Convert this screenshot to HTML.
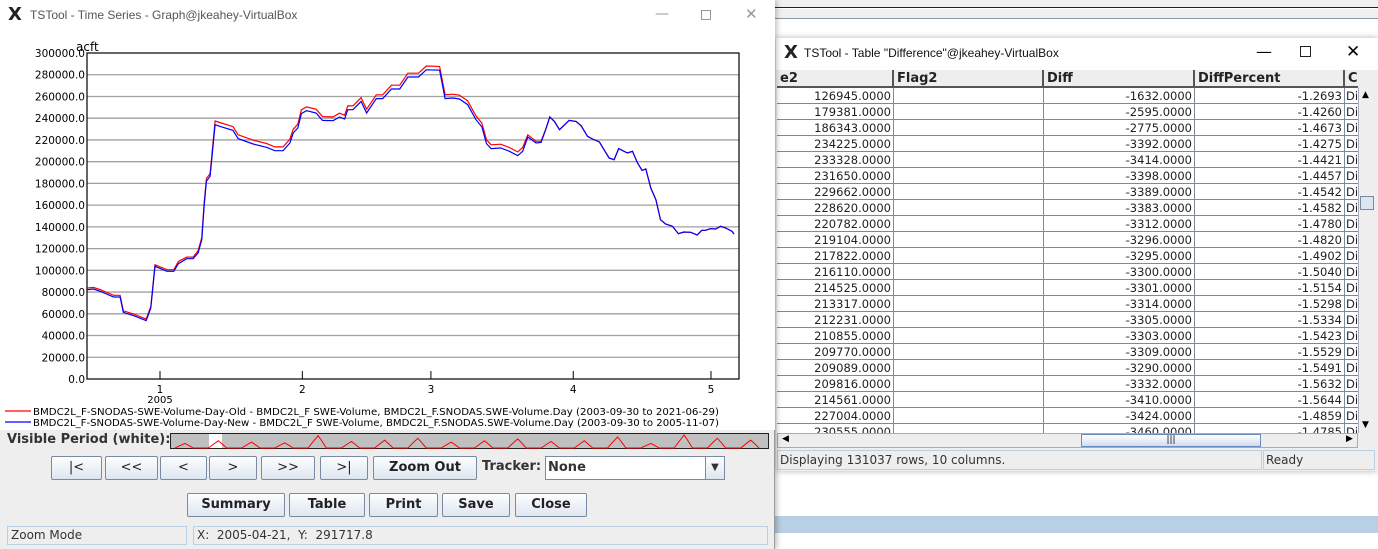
<!DOCTYPE html>
<html><head><meta charset="utf-8">
<style>
*{box-sizing:border-box;margin:0;padding:0}
body{width:1378px;height:549px;overflow:hidden;background:#fff;font-family:"DejaVu Sans","Liberation Sans",sans-serif;position:relative}
.abs{position:absolute}
.btn{position:absolute;height:24px;border:1px solid #7a8aa0;border-radius:2px;background:linear-gradient(#fdfeff,#dde6f0);font-size:13px;text-align:center;line-height:22px;color:#222}
.btn2{font-weight:bold}
.cell{position:absolute;height:16px;font-size:11.5px;line-height:16px;text-align:right;padding-right:2px;color:#222;border-right:1px solid #7d8a99;border-bottom:1px solid #7d8a99}
.hdr{position:absolute;top:70px;height:18px;font-weight:bold;font-size:13px;line-height:18px;padding-left:3px;background:#eeeeee;border-right:2px solid #555;border-bottom:2px solid #555;color:#222}
</style></head><body>
<!-- background desktop strip -->
<div class="abs" style="left:775px;top:0;width:603px;height:8px;background:#f0f0f0;border-bottom:1px solid #222"></div>
<div class="abs" style="left:775px;top:9px;width:603px;height:10px;background:#f0f0f0;border-bottom:1px solid #8a9aa8"></div>
<div class="abs" style="left:775px;top:516px;width:603px;height:17px;background:#b8cfe4"></div>

<!-- Table window -->
<div class="abs" style="left:776px;top:38px;width:602px;height:433px;background:#eee;box-shadow:0 0 6px rgba(0,0,0,.3)">
  <div class="abs" style="left:0;top:0;width:602px;height:32px;background:#fff">
    <span class="abs" style="left:8px;top:4px;font-size:18px;font-weight:bold;color:#222">X</span>
    <span class="abs" style="left:28px;top:8px;font-family:'Liberation Sans',sans-serif;font-size:12px;color:#111">TSTool - Table "Difference"@jkeahey-VirtualBox</span>
    <span class="abs" style="left:480px;top:4px;font-size:16px">—</span>
    <span class="abs" style="left:524px;top:8px;width:11px;height:11px;border:1px solid #222"></span>
    <span class="abs" style="left:570px;top:4px;font-size:17px">✕</span>
  </div>
</div>
<div id="table" class="abs" style="left:777px;top:70px;width:581px;height:363px;overflow:hidden;background:#fff"></div>
<div class="abs" style="left:1358px;top:88px;width:17px;height:345px;background:#eee;border-left:1px solid #aab">
  <div class="abs" style="left:3px;top:2px;font-size:9px">▲</div>
  <div class="abs" style="left:1px;top:108px;width:14px;height:14px;background:#dde6f0;border:1px solid #7a8aa0"></div>
  <div class="abs" style="left:3px;top:332px;font-size:9px">▼</div>
</div>
<div class="abs" style="left:777px;top:433px;width:581px;height:15px;background:#eee;border:1px solid #aab">
  <div class="abs" style="left:4px;top:0;font-size:9px">◀</div>
  <div class="abs" style="left:303px;top:0;width:180px;height:13px;background:linear-gradient(#fff,#cddcf0);border:1px solid #6a8ac0;text-align:center;font-size:9px">|||</div>
  <div class="abs" style="left:568px;top:0;font-size:9px">▶</div>
</div>
<div class="abs" style="left:777px;top:450px;width:485px;height:20px;border:1px solid #b8cfe4;font-size:12px;line-height:18px;padding-left:2px;color:#333">Displaying 131037 rows, 10 columns.</div>
<div class="abs" style="left:1263px;top:450px;width:112px;height:20px;border:1px solid #b8cfe4;font-size:12px;line-height:18px;padding-left:2px;color:#333">Ready</div>

<!-- Graph window -->
<div class="abs" style="left:0;top:0;width:775px;height:549px;background:#eeeeee;border-right:1px solid #999;box-shadow:2px 0 5px rgba(0,0,0,.25)">
  <div class="abs" style="left:0;top:0;width:775px;height:32px;background:#fff">
    <span class="abs" style="left:8px;top:4px;font-size:18px;font-weight:bold;color:#222">X</span>
    <span class="abs" style="left:30px;top:8px;font-family:'Liberation Sans',sans-serif;font-size:12px;color:#555">TSTool - Time Series - Graph@jkeahey-VirtualBox</span>
    <span class="abs" style="left:655px;top:6px;font-size:14px;color:#999">—</span>
    <span class="abs" style="left:701px;top:10px;width:10px;height:10px;border:1px solid #999"></span>
    <span class="abs" style="left:745px;top:5px;font-size:15px;color:#999">✕</span>
  </div>
  <div class="abs" style="left:0;top:32px;width:775px;height:398px;background:#fff"></div>
  <svg id="chart" class="abs" style="left:0;top:0" width="775" height="430"></svg>
  <div class="abs" style="left:7px;top:432px;font-size:13px;font-weight:bold;color:#333">Visible Period (white):</div>
  <svg id="overview" class="abs" style="left:170px;top:433px" width="599" height="16"></svg>
  <div class="btn" style="left:51px;top:456px;width:51px">|&lt;</div>
  <div class="btn" style="left:105px;top:456px;width:53px">&lt;&lt;</div>
  <div class="btn" style="left:160px;top:456px;width:47px">&lt;</div>
  <div class="btn" style="left:209px;top:456px;width:48px">&gt;</div>
  <div class="btn" style="left:261px;top:456px;width:54px">&gt;&gt;</div>
  <div class="btn" style="left:320px;top:456px;width:48px">&gt;|</div>
  <div class="btn btn2" style="left:373px;top:456px;width:104px">Zoom Out</div>
  <div class="abs" style="left:482px;top:459px;font-size:13px;font-weight:bold;color:#333">Tracker:</div>
  <div class="abs" style="left:545px;top:456px;width:180px;height:24px;border:1px solid #7a8aa0;background:#fff;font-size:13px;font-weight:bold;line-height:22px;padding-left:2px;color:#333">None<span class="abs" style="right:0;top:0;width:19px;height:22px;background:linear-gradient(#fdfeff,#dde6f0);border-left:1px solid #7a8aa0;font-size:10px;text-align:center">▼</span></div>
  <div class="btn btn2" style="left:187px;top:493px;width:98px">Summary</div>
  <div class="btn btn2" style="left:289px;top:493px;width:76px">Table</div>
  <div class="btn btn2" style="left:369px;top:493px;width:69px">Print</div>
  <div class="btn btn2" style="left:442px;top:493px;width:68px">Save</div>
  <div class="btn btn2" style="left:515px;top:493px;width:72px">Close</div>
  <div class="abs" style="left:7px;top:526px;width:180px;height:19px;border:1px solid #b8cfe4;font-size:12px;line-height:17px;padding-left:3px;color:#333">Zoom Mode</div>
  <div class="abs" style="left:193px;top:526px;width:575px;height:19px;border:1px solid #b8cfe4;font-size:12px;line-height:17px;padding-left:3px;color:#333">X:&nbsp; 2005-04-21,&nbsp; Y:&nbsp; 291717.8</div>
</div>

<script>
// chart data (days since 2005-01-01, acre-feet)
const days=[-15.8,-14.5,-13,-10.1,-8.7,-8,-5.8,-3,-2,-1.1,1.5,3,4,5.8,7.2,8.3,9.1,9.6,10.1,10.9,12,13,15.9,17,20.3,23.2,25,26.8,28.3,29,30,30.8,31.9,34,35.4,37.7,39.1,40.2,40.9,42,43.8,45,47.1,48.5,50.4,52.2,54,56.3,58,60.9,62.1,63.8,65.2,67,68.8,70.1,71.1,72.1,74.2,76.1,77.9,79,80.1,81.9,83,84,84.9,85.9,87,89.1,90.6,91.7,93.1,94.2,95.7,96.7,97.8,98.9,99.9,101.8,102.9,104,105,105.8,106.9,108,109,110.1,111.6,112.9,114.1,115.6,117,118,118.8,119.9,121,122.1,123.2,124.6,125];
const newValues=[82200,82800,80700,75500,75500,61300,58300,53700,65300,103700,99100,99100,106100,110700,110700,116000,128200,158900,181900,186500,234000,232500,228800,221200,216300,213200,210100,210100,217200,226400,231000,244200,246900,244800,238000,237700,241100,239300,247800,247800,255500,244800,258000,258000,266900,266900,277900,277900,284500,284200,258000,258600,257700,252500,238700,231900,216600,212000,212600,209500,205500,209500,222700,217200,217800,229400,241100,237100,229400,238000,237100,233100,223300,220900,218100,211000,203400,201800,212000,208000,209500,198800,192000,193300,175800,165000,146600,142600,140500,133700,135300,135000,132500,136800,136800,138300,138000,140500,139000,135900,133400];
const oldValues=[83700,84300,82200,77000,77000,62800,59800,55200,66800,105200,100600,100600,108100,112200,112200,118000,130200,161400,184400,189000,237500,236000,232300,224700,219800,216700,213600,213600,220700,229900,234500,247700,250400,248300,241500,241200,244600,242800,251300,251300,259000,248300,261500,261500,270400,270400,281400,281400,288000,287700,261500,262100,261200,256000,242200,235400,220100,215500,216100,213000,209000,213000,224700,218700,218800,229900,241100,237100,229400,238000,237100,233100,223300,220900,218100,211000,203400,201800,212000,208000,209500,198800,192000,193300,175800,165000,146600,142600,140500,133700,135300,135000,132500,136800,136800,138300,138000,140500,139000,135900,133400];
const yTicks=[0,20000,40000,60000,80000,100000,120000,140000,160000,180000,200000,220000,240000,260000,280000,300000];
const xTickDays=[0,31,59,90,120];
const xTickLabels=["1","2","3","4","5"];
const overviewPeaks=[0.35,0.55,0.45,0.4,0.95,0.5,0.6,0.75,0.45,0.55,0.7,0.5,0.55,0.85,0.35,1.0,0.75,0.6];

const NS="http://www.w3.org/2000/svg";
const L=87,R=739,T=53,B=379;
const dMin=-15.9,dMax=126.1;
function xs(d){return L+(d-dMin)/(dMax-dMin)*(R-L);}
function ys(v){return B-v/300000*(B-T);}
const svg=document.getElementById('chart');
function mk(tag,attrs,parent){const e=document.createElementNS(NS,tag);for(const k in attrs)e.setAttribute(k,attrs[k]);(parent||svg).appendChild(e);return e;}
yTicks.forEach(v=>{
  if(v>0&&v<300000){const g=mk('line',{x1:L,x2:R,y1:ys(v),y2:ys(v),stroke:'#a0a0a0','stroke-width':1.3});
  
  }
  const t=mk('text',{x:L-2,y:ys(v)+4,'text-anchor':'end','font-size':'10.5','font-family':'DejaVu Sans, sans-serif',fill:'#000'});
  t.textContent=v.toFixed(1);
  
  
});
const frame=mk('rect',{x:L,y:T,width:R-L,height:B-T,fill:'none',stroke:'#000','stroke-width':1.2});


const unit=mk('text',{x:76,y:51,'font-size':'12','font-family':'DejaVu Sans, sans-serif'});unit.textContent='acft';


xTickDays.forEach((d,i)=>{
  const tk=mk('line',{x1:xs(d),x2:xs(d),y1:B,y2:B-8,stroke:'#000'});
  
  
  const t=mk('text',{x:xs(d),y:B+14,'text-anchor':'middle','font-size':'10.5','font-family':'DejaVu Sans, sans-serif'});
  t.textContent=xTickLabels[i];
  
  
});
const yr=mk('text',{x:xs(0),y:B+24,'text-anchor':'middle','font-size':'10','font-family':'DejaVu Sans, sans-serif'});yr.textContent='2005';


function series(vals,color,name){
  const p=mk('polyline',{points:days.map((d,i)=>xs(d).toFixed(1)+','+ys(vals[i]).toFixed(1)).join(' '),fill:'none',stroke:color,'stroke-width':1.2});
  
  
}
series(oldValues,'#ff0000','series-old-line');
series(newValues,'#0000ff','series-new-line');
// legend
[['#ff0000','BMDC2L_F-SNODAS-SWE-Volume-Day-Old - BMDC2L_F SWE-Volume, BMDC2L_F.SNODAS.SWE-Volume.Day (2003-09-30 to 2021-06-29)',412],
 ['#0000ff','BMDC2L_F-SNODAS-SWE-Volume-Day-New - BMDC2L_F SWE-Volume, BMDC2L_F.SNODAS.SWE-Volume.Day (2003-09-30 to 2005-11-07)',423]].forEach(e=>{
  const ln=mk('line',{x1:5,x2:31,y1:e[2]-1,y2:e[2]-1,stroke:e[0],'stroke-width':1.2});
  
  
  const t=mk('text',{x:33,y:e[2]+3,'font-size':'9.5','font-family':'DejaVu Sans, sans-serif',textLength:686,lengthAdjust:'spacingAndGlyphs'});t.textContent=e[1];
  
  
});
// overview
const ov=document.getElementById('overview');
function mko(tag,attrs){const e=document.createElementNS(NS,tag);for(const k in attrs)e.setAttribute(k,attrs[k]);ov.appendChild(e);return e;}
const obg=mko('rect',{x:0.5,y:0.5,width:598,height:15,fill:'#c0c0c0',stroke:'#222'});


const win=mko('rect',{x:39,y:1,width:13,height:14,fill:'#fff'});


const yw=599/overviewPeaks.length;
let pts=[];
overviewPeaks.forEach((h,i)=>{const x0=i*yw+5;pts.push([x0,15],[x0+yw*0.18,15-h*8],[x0+yw*0.3,15-h*13],[x0+yw*0.42,15-h*7],[x0+yw*0.55,15]);});
const opl=mko('polyline',{points:pts.map(p=>p[0].toFixed(1)+','+p[1].toFixed(1)).join(' '),fill:'none',stroke:'#ff0000','stroke-width':1});


// table
const tableVals=[126945,179381,186343,234225,233328,231650,229662,228620,220782,219104,217822,216110,214525,213317,212231,210855,209770,209089,209816,214561,227004,230555];
const tableDiff=[-1632,-2595,-2775,-3392,-3414,-3398,-3389,-3383,-3312,-3296,-3295,-3300,-3301,-3314,-3305,-3303,-3309,-3290,-3332,-3410,-3424,-3460];
const tablePct=[-1.2693,-1.4260,-1.4673,-1.4275,-1.4421,-1.4457,-1.4542,-1.4582,-1.4780,-1.4820,-1.4902,-1.5040,-1.5154,-1.5298,-1.5334,-1.5423,-1.5529,-1.5491,-1.5632,-1.5644,-1.4859,-1.4785];
const tb=document.getElementById('table');
const cols=[[0,117,'e2'],[117,150,'Flag2'],[267,151,'Diff'],[418,150,'DiffPercent'],[568,20,'Co']];
cols.forEach(c=>{const h=document.createElement('div');h.className='hdr';h.style.left=c[0]+'px';h.style.top='0px';h.style.width=c[1]+'px';h.textContent=c[2];


tb.appendChild(h);});
tableVals.forEach((v,i)=>{
  const row=[v.toFixed(4),'',tableDiff[i].toFixed(4),tablePct[i].toFixed(4),'Dif'];
  row.forEach((txt,j)=>{const c=document.createElement('div');c.className='cell';
    c.style.left=cols[j][0]+'px';c.style.top=(18+i*16)+'px';c.style.width=cols[j][1]+'px';
    if(j==4){c.style.textAlign='left';c.style.paddingLeft='1px';}
    c.textContent=txt;
    
    
    tb.appendChild(c);});
});
</script>
</body></html>
